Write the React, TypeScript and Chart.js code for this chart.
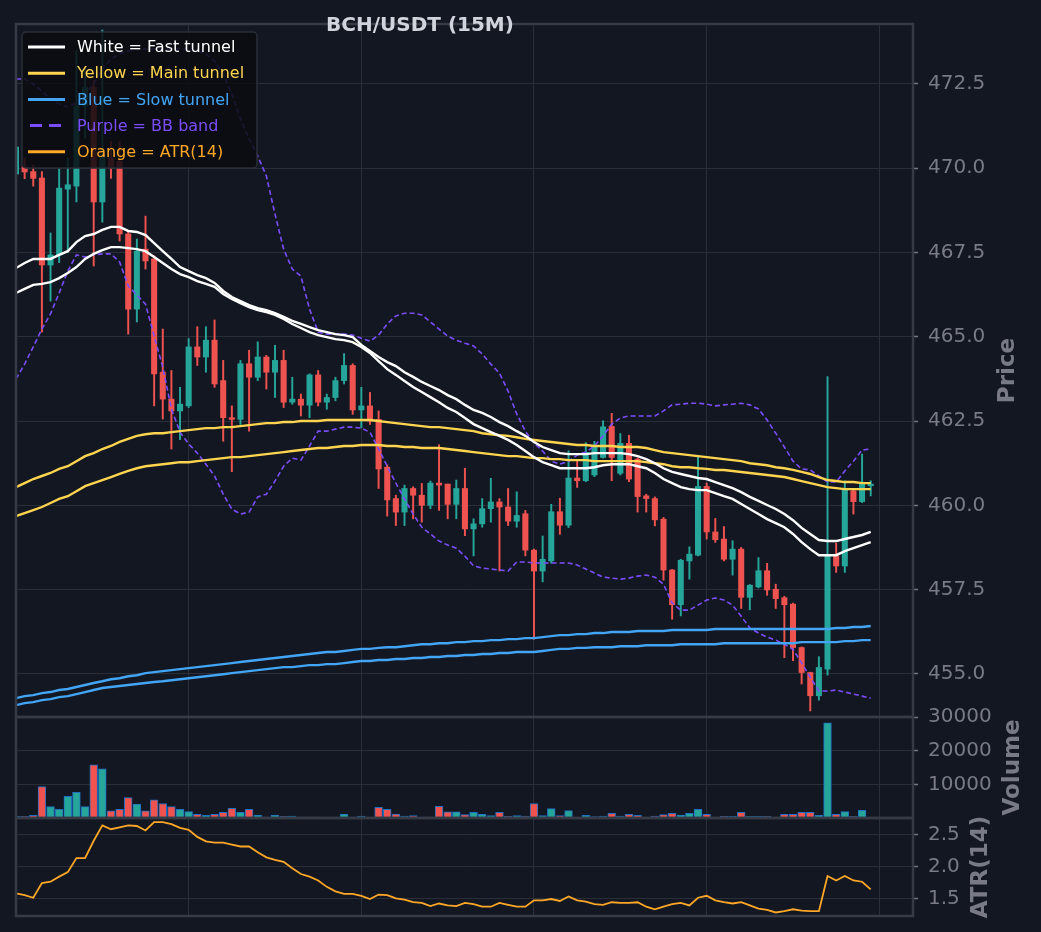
import { useEffect, useRef } from "react";
import { Chart, registerables } from "chart.js";

Chart.register(...registerables);

// ---- data (one entry per 15m candle) ----
const OPEN = [
  469.83, 470.04, 469.9, 469.71, 467.13, 467.43, 469.38, 469.47, 471.85, 472.4,
  469.0, 470.3, 470.2, 468.05, 465.82, 467.6, 467.31, 463.95, 463.15, 462.8,
  462.95, 464.7, 464.4, 464.9, 463.7, 462.6, 462.55, 464.2, 463.8, 464.4,
  463.95, 464.3, 463.06, 463.15, 462.97, 463.87, 463.06, 463.2, 463.7, 464.15,
  462.83, 462.95, 462.55, 461.13, 460.2, 459.8, 460.5, 460.3, 460.0, 460.66,
  460.63, 460.03, 460.5, 459.3, 459.45, 459.9, 460.1, 459.95, 459.53, 459.75,
  458.67, 458.05, 458.35, 459.81, 459.41, 460.81, 460.73, 460.9, 461.42, 462.34,
  460.95, 461.84, 461.37, 460.28, 460.2, 459.59, 458.08, 457.05, 458.35, 458.52,
  460.56, 459.21, 459.0, 458.4, 458.7, 457.27, 457.58, 458.06, 457.51, 457.26,
  457.07, 455.78, 455.04, 454.35, 455.14, 458.5, 458.2, 460.43, 460.11, 460.58,
];
const HIGH = [
  471.0, 470.3, 470.1, 469.9, 468.08, 469.98, 470.3, 473.5, 473.0, 472.6,
  474.1, 470.8, 470.8, 468.1, 467.9, 468.58, 467.4, 465.23, 464.0, 463.5,
  464.95, 465.3, 465.3, 465.5, 464.3, 462.95, 464.3, 464.6, 464.85, 464.45,
  464.75, 464.6, 463.8, 463.3, 463.9, 464.0, 463.3, 463.8, 464.5, 464.2,
  463.5, 463.35, 462.8, 461.2, 460.3, 460.6, 460.55, 460.65, 460.72, 461.8,
  460.63, 460.75, 461.1, 459.6, 460.2, 460.8, 460.2, 460.5, 460.4, 459.85,
  458.7, 459.09, 460.03, 460.21, 461.62, 461.32, 461.86, 461.9, 462.51, 462.73,
  462.13, 462.08, 461.4, 460.33, 460.25, 459.64, 458.1, 458.4, 458.77, 461.44,
  460.66, 459.61, 459.37, 458.95, 458.75, 457.65, 458.45, 458.28, 457.66, 457.3,
  457.1, 455.8, 455.05, 455.51, 463.82, 458.88, 460.73, 460.45, 461.52, 460.73,
];
const LOW = [
  469.7, 469.69, 469.47, 465.14, 466.06, 467.2, 467.5, 469.0, 470.9, 467.1,
  468.4, 469.7, 467.84, 465.08, 465.44, 467.01, 462.95, 462.56, 461.67, 461.95,
  462.9, 464.15, 463.95, 463.5, 461.9, 461.0, 462.4, 462.2, 463.7, 463.45,
  463.2, 462.9, 463.0, 462.65, 462.6, 462.95, 462.85, 463.1, 463.6, 462.7,
  462.3, 462.4, 460.5, 459.68, 459.4, 459.4, 459.6, 459.5, 459.9, 459.85,
  459.6, 459.6, 459.1, 458.5, 459.35, 459.5, 458.05, 459.4, 459.35, 458.5,
  456.03, 457.73, 458.28, 459.14, 459.34, 460.53, 460.7, 460.85, 461.4, 460.73,
  460.9, 460.7, 459.8, 459.8, 459.39, 457.78, 456.62, 456.72, 457.81, 458.5,
  459.0, 458.9, 458.35, 457.93, 456.94, 456.9, 457.55, 457.33, 456.94, 455.48,
  455.39, 454.7, 453.9, 454.22, 454.96, 458.01, 458.01, 459.74, 460.08, 460.28,
];
const CLOSE = [
  470.63, 469.89, 469.7, 467.13, 467.43, 469.41, 469.51, 471.85, 472.4, 469.0,
  470.4, 470.0, 468.05, 465.82, 467.54, 467.25, 463.9, 463.15, 462.8, 463.0,
  464.7, 464.4, 464.9, 463.6, 462.6, 462.55, 464.2, 463.8, 464.4, 463.95,
  464.3, 463.06, 463.15, 462.97, 463.87, 463.06, 463.2, 463.7, 464.15, 462.83,
  462.95, 462.5, 461.08, 460.16, 459.8, 460.5, 460.3, 460.0, 460.66, 460.6,
  460.03, 460.5, 459.3, 459.45, 459.9, 460.1, 459.95, 459.53, 459.7, 458.67,
  458.05, 458.4, 459.81, 459.41, 460.81, 460.73, 461.57, 461.76, 462.33, 461.42,
  461.84, 460.78, 460.26, 460.2, 459.57, 458.08, 457.05, 458.37, 458.55, 460.56,
  459.21, 458.98, 458.4, 458.7, 457.27, 457.63, 458.06, 457.49, 457.23, 457.05,
  455.78, 455.04, 454.35, 455.19, 458.5, 458.2, 460.48, 460.11, 460.63, 460.63,
];
const VOLUME = [
  500, 500, 800, 9300, 3400, 2600, 6400, 7600, 3400, 15800,
  14600, 2100, 2600, 6100, 4100, 2100, 5400, 4300, 3400, 2600,
  1900, 1100, 800, 1100, 1700, 2900, 1700, 2600, 900, 300,
  900, 500, 600, 300, 300, 300, 100, 300, 1200, 300,
  600, 200, 3200, 2600, 1200, 600, 700, 300, 300, 3500,
  1800, 1800, 1000, 1700, 1100, 700, 1700, 500, 700, 600,
  4300, 700, 2800, 700, 2200, 100, 800, 400, 600, 1400,
  600, 1100, 800, 100, 600, 1000, 1400, 900, 1400, 2600,
  1100, 200, 500, 500, 1700, 500, 500, 500, 200, 1100,
  1100, 1700, 1700, 800, 28300, 1100, 1900, 500, 2300, 200,
];
const ATR = [
  1.58, 1.55, 1.51, 1.74, 1.76, 1.84, 1.91, 2.13, 2.13, 2.4,
  2.64, 2.58, 2.61, 2.64, 2.63, 2.56, 2.69, 2.69, 2.66, 2.6,
  2.57, 2.46, 2.39, 2.37, 2.37, 2.34, 2.31, 2.31, 2.22, 2.14,
  2.1, 2.07, 1.97, 1.88, 1.84, 1.78, 1.68, 1.61, 1.57, 1.57,
  1.54, 1.49, 1.56, 1.55, 1.5, 1.48, 1.44, 1.43, 1.38, 1.42,
  1.39, 1.38, 1.43, 1.41, 1.37, 1.37, 1.43, 1.4, 1.37, 1.37,
  1.47, 1.47, 1.49, 1.46, 1.53, 1.47, 1.45, 1.41, 1.4, 1.44,
  1.43, 1.43, 1.44, 1.37, 1.33, 1.37, 1.41, 1.43, 1.39, 1.51,
  1.54, 1.47, 1.44, 1.42, 1.44, 1.39, 1.34, 1.32, 1.28, 1.3,
  1.33, 1.31, 1.3, 1.3, 1.85, 1.78, 1.85, 1.78, 1.76, 1.64,
];
const FAST_UPPER = [
  467.04, 467.19, 467.31, 467.31, 467.31, 467.43, 467.54, 467.81, 467.99, 468.05,
  468.17, 468.26, 468.26, 468.14, 468.11, 468.02, 467.78, 467.54, 467.31, 467.07,
  466.95, 466.83, 466.74, 466.6, 466.36, 466.18, 466.06, 465.94, 465.85, 465.79,
  465.7, 465.59, 465.47, 465.38, 465.29, 465.2, 465.14, 465.08, 465.05, 464.99,
  464.76, 464.58, 464.4, 464.25, 464.13, 463.95, 463.81, 463.66, 463.54, 463.42,
  463.27, 463.15, 462.98, 462.83, 462.74, 462.62, 462.47, 462.35, 462.2, 462.06,
  461.88, 461.73, 461.64, 461.55, 461.52, 461.52, 461.52, 461.55, 461.55, 461.55,
  461.55, 461.52, 461.46, 461.37, 461.25, 461.1, 460.99, 460.93, 460.87, 460.81,
  460.78, 460.69, 460.6, 460.51, 460.39, 460.25, 460.13, 460.01, 459.89, 459.74,
  459.56, 459.33, 459.15, 458.97, 458.94, 458.94, 459.0, 459.06, 459.12, 459.21,
];
const FAST_LOWER = [
  466.3, 466.42, 466.54, 466.57, 466.62, 466.74, 466.89, 467.07, 467.31, 467.46,
  467.57, 467.66, 467.66, 467.63, 467.6, 467.54, 467.37, 467.19, 467.01, 466.86,
  466.77, 466.65, 466.57, 466.48, 466.27, 466.12, 466.0, 465.88, 465.79, 465.73,
  465.65, 465.53, 465.38, 465.26, 465.14, 465.05, 464.99, 464.93, 464.9, 464.84,
  464.7, 464.52, 464.28, 464.04, 463.87, 463.69, 463.51, 463.36, 463.21, 463.06,
  462.89, 462.77, 462.59, 462.41, 462.29, 462.17, 462.06, 461.94, 461.79, 461.61,
  461.43, 461.28, 461.19, 461.1, 461.1, 461.1, 461.1, 461.13, 461.19, 461.22,
  461.22, 461.22, 461.16, 461.1, 460.96, 460.78, 460.66, 460.54, 460.48, 460.45,
  460.45, 460.36, 460.27, 460.19, 460.04, 459.89, 459.74, 459.59, 459.47, 459.35,
  459.15, 458.91, 458.7, 458.52, 458.52, 458.52, 458.64, 458.73, 458.82, 458.91,
];
const MAIN_UPPER = [
  460.54, 460.66, 460.78, 460.87, 460.96, 461.08, 461.16, 461.31, 461.46, 461.55,
  461.67, 461.76, 461.88, 461.97, 462.06, 462.11, 462.14, 462.14, 462.17, 462.2,
  462.23, 462.26, 462.29, 462.29, 462.32, 462.32, 462.35, 462.38, 462.41, 462.44,
  462.44, 462.47, 462.47, 462.5, 462.5, 462.5, 462.53, 462.53, 462.53, 462.53,
  462.53, 462.53, 462.5, 462.47, 462.44, 462.41, 462.38, 462.35, 462.32, 462.32,
  462.29, 462.26, 462.23, 462.2, 462.14, 462.11, 462.08, 462.06, 462.02, 461.97,
  461.94, 461.91, 461.88, 461.85, 461.82, 461.79, 461.79, 461.76, 461.76, 461.76,
  461.73, 461.73, 461.73, 461.7, 461.64, 461.58, 461.55, 461.52, 461.49, 461.46,
  461.43, 461.4, 461.37, 461.34, 461.31, 461.25, 461.22, 461.19, 461.13, 461.1,
  461.05, 460.99, 460.93, 460.84, 460.75, 460.72, 460.69, 460.69, 460.66, 460.66,
];
const MAIN_LOWER = [
  459.68, 459.77, 459.86, 459.95, 460.07, 460.19, 460.27, 460.42, 460.57, 460.66,
  460.75, 460.84, 460.93, 461.02, 461.1, 461.16, 461.19, 461.22, 461.25, 461.28,
  461.28, 461.31, 461.34, 461.37, 461.4, 461.43, 461.43, 461.46, 461.49, 461.52,
  461.55, 461.58, 461.61, 461.64, 461.67, 461.7, 461.7, 461.73, 461.76, 461.76,
  461.79, 461.79, 461.79, 461.76, 461.76, 461.73, 461.73, 461.7, 461.7, 461.7,
  461.67, 461.64, 461.61, 461.58, 461.55, 461.52, 461.49, 461.46, 461.46, 461.43,
  461.4, 461.4, 461.37, 461.37, 461.34, 461.34, 461.34, 461.31, 461.31, 461.31,
  461.31, 461.31, 461.31, 461.28, 461.25, 461.22, 461.16, 461.13, 461.13, 461.1,
  461.08, 461.05, 461.05, 461.02, 460.99, 460.96, 460.93, 460.9, 460.87, 460.84,
  460.78, 460.72, 460.66, 460.6, 460.54, 460.51, 460.48, 460.48, 460.48, 460.48,
];
const SLOW_UPPER = [
  454.28, 454.34, 454.37, 454.43, 454.46, 454.52, 454.55, 454.61, 454.67, 454.73,
  454.78, 454.84, 454.87, 454.93, 454.96, 455.02, 455.05, 455.08, 455.11, 455.14,
  455.17, 455.2, 455.23, 455.26, 455.29, 455.32, 455.35, 455.38, 455.41, 455.44,
  455.47, 455.5, 455.53, 455.56, 455.59, 455.62, 455.65, 455.65, 455.68, 455.71,
  455.74, 455.74, 455.77, 455.79, 455.79, 455.82, 455.85, 455.88, 455.88, 455.91,
  455.91, 455.94, 455.94, 455.97, 455.97, 456.0, 456.0, 456.03, 456.03, 456.06,
  456.06, 456.09, 456.12, 456.15, 456.15, 456.18, 456.18, 456.21, 456.21, 456.24,
  456.24, 456.24, 456.27, 456.27, 456.27, 456.27, 456.3, 456.3, 456.3, 456.3,
  456.3, 456.33, 456.33, 456.33, 456.33, 456.33, 456.33, 456.33, 456.33, 456.33,
  456.33, 456.33, 456.33, 456.33, 456.33, 456.36, 456.36, 456.39, 456.39, 456.42,
];
const SLOW_LOWER = [
  454.07, 454.13, 454.16, 454.22, 454.25, 454.31, 454.34, 454.4, 454.46, 454.52,
  454.58, 454.61, 454.64, 454.67, 454.7, 454.73, 454.76, 454.78, 454.81, 454.84,
  454.87, 454.9, 454.93, 454.96, 454.99, 455.02, 455.05, 455.08, 455.11, 455.14,
  455.17, 455.2, 455.2, 455.23, 455.26, 455.26, 455.29, 455.29, 455.32, 455.35,
  455.38, 455.38, 455.41, 455.41, 455.44, 455.44, 455.47, 455.47, 455.5, 455.5,
  455.53, 455.53, 455.56, 455.56, 455.59, 455.59, 455.62, 455.62, 455.65, 455.65,
  455.65, 455.68, 455.71, 455.74, 455.74, 455.77, 455.77, 455.79, 455.79, 455.79,
  455.82, 455.82, 455.82, 455.85, 455.85, 455.85, 455.85, 455.88, 455.88, 455.88,
  455.88, 455.88, 455.91, 455.91, 455.91, 455.91, 455.91, 455.91, 455.91, 455.91,
  455.91, 455.94, 455.94, 455.94, 455.94, 455.94, 455.97, 455.97, 456.0, 456.0,
];
const BB_UPPER = [
  472.65, 472.65, 472.5, 472.29, 472.06, 471.91, 471.82, 471.94, 472.2, 472.5,
  472.95, 473.24, 473.39, 473.48, 473.54, 473.54, 473.54, 473.54, 473.54, 473.54,
  473.54, 473.48, 473.39, 473.18, 472.8, 472.2, 471.46, 470.87, 470.36, 469.77,
  468.64, 467.6, 467.01, 466.8, 465.82, 465.14, 465.08, 465.08, 465.08, 465.05,
  464.96, 464.87, 465.05, 465.38, 465.62, 465.7, 465.7, 465.65, 465.44, 465.23,
  465.02, 464.9, 464.81, 464.73, 464.49, 464.19, 463.92, 463.39, 462.71, 462.2,
  461.85, 461.61, 461.31, 461.22, 461.31, 461.49, 461.58, 461.76, 462.06, 462.41,
  462.59, 462.65, 462.65, 462.65, 462.65, 462.8, 462.98, 463.0, 463.03, 463.03,
  463.0, 462.95, 462.98, 463.0, 463.03, 462.98, 462.86, 462.53, 462.14, 461.73,
  461.31, 461.08, 461.05, 460.87, 460.69, 460.69, 461.02, 461.31, 461.64, 461.67,
];
const BB_LOWER = [
  463.75, 464.19, 464.7, 465.23, 465.68, 466.3, 466.95, 467.43, 467.37, 467.43,
  467.46, 467.46, 467.22, 466.51, 466.24, 465.97, 465.02, 464.1, 462.86, 462.17,
  461.82, 461.55, 461.22, 460.87, 460.33, 459.89, 459.74, 459.8, 460.25, 460.33,
  460.72, 461.16, 461.4, 461.34, 461.76, 462.2, 462.2, 462.26, 462.32, 462.32,
  462.29, 462.17, 461.67, 461.16, 460.66, 460.19, 459.74, 459.35, 459.15, 458.94,
  458.82, 458.73, 458.49, 458.2, 458.14, 458.11, 458.08, 458.05, 458.32, 458.32,
  458.29, 458.29, 458.29, 458.29, 458.29, 458.23, 458.11, 457.99, 457.87, 457.84,
  457.81, 457.84, 457.9, 457.93, 457.87, 457.66, 457.1, 456.89, 456.89, 457.04,
  457.19, 457.25, 457.19, 457.04, 456.71, 456.36, 456.21, 456.09, 456.0, 455.88,
  455.73, 455.32, 454.9, 454.49, 454.49, 454.52, 454.46, 454.4, 454.34, 454.28,
];
const PRICE_TICKS = [455, 457.5, 460, 462.5, 465, 467.5, 470, 472.5];
const VOLUME_TICKS = [10000, 20000, 30000];
const ATR_TICKS = [1.5, 2, 2.5];
const X_GRID = [20, 40, 60, 80, 100];

// ---- styling ----
const BG = "#131722";
const GRID = "#2a2e39";
const SPINE = "#363a45";
const TEXT_DIM = "#787b86";
const UP = "#26a69a";
const DOWN = "#ef5350";
const FONT = '"DejaVu Sans", sans-serif';

const LEGEND_ROWS = [
  { label: "White = Fast tunnel", color: "#ffffff", dash: false },
  { label: "Yellow = Main tunnel", color: "#ffd54f", dash: false },
  { label: "Blue = Slow tunnel", color: "#42a5f5", dash: false },
  { label: "Purple = BB band", color: "#7c4dff", dash: true },
  { label: "Orange = ATR(14)", color: "#ffa726", dash: false },
];

const dirColors = CLOSE.map((c, i) => (c >= OPEN[i] ? UP : DOWN));
const xy = (arr: number[]) => arr.map((v, i) => ({ x: i, y: v }));

function lineSet(label: string, data: number[], color: string, width: number, axis = "y", dash: number[] = []) {
  return {
    type: "line" as const,
    label,
    data: xy(data),
    yAxisID: axis,
    borderColor: color,
    borderWidth: width,
    borderDash: dash,
    pointRadius: 0,
    fill: false,
    tension: 0,
    order: 1,
  };
}

function fixedTicks(values: number[]) {
  return (axis: any) => {
    axis.ticks = values.map((v) => ({ value: v }));
  };
}

function yAxis(weight: number, min: number, max: number, ticks: number[], fmt: (v: number) => string) {
  return {
    type: "linear" as const,
    position: "right" as const,
    stack: "panels",
    stackWeight: weight,
    min,
    max,
    afterBuildTicks: fixedTicks(ticks),
    // fixed axis width so the plot ends at the same x as the reference;
    // label overhang padding is zeroed so it does not shrink the plot area
    afterFit: (axis: any) => {
      axis.width = 128;
      axis.paddingTop = 0;
      axis.paddingBottom = 0;
    },
    border: { display: false },
    grid: { color: GRID, lineWidth: 1, drawTicks: true, tickLength: 5, tickColor: TEXT_DIM, tickWidth: 1.5 },
    ticks: {
      color: TEXT_DIM,
      padding: 10,
      autoSkip: false,
      font: { family: FONT, size: 20 },
      callback: (v: any) => fmt(Number(v)),
    },
  };
}

const decor = {
  id: "decor",
  beforeDraw(chart: any) {
    const { ctx, width, height } = chart;
    ctx.save();
    ctx.fillStyle = BG;
    ctx.fillRect(0, 0, width, height);
    ctx.restore();
  },
  afterDraw(chart: any) {
    const { ctx, chartArea } = chart;
    ctx.save();
    // panel frames
    for (const id of ["y", "vol", "atr"]) {
      const s = chart.scales[id];
      ctx.strokeStyle = SPINE;
      ctx.lineWidth = 2.5;
      ctx.strokeRect(chartArea.left, s.top, chartArea.right - chartArea.left, s.bottom - s.top);
    }
    // title
    ctx.fillStyle = "#d1d4dc";
    ctx.font = `bold 20px ${FONT}`;
    ctx.textAlign = "center";
    ctx.textBaseline = "alphabetic";
    ctx.fillText("BCH/USDT (15M)", 420, 31);
    // rotated axis titles
    const axisTitle = (text: string, x: number, id: string) => {
      const s = chart.scales[id];
      ctx.save();
      ctx.translate(x, (s.top + s.bottom) / 2);
      ctx.rotate(-Math.PI / 2);
      ctx.fillStyle = TEXT_DIM;
      ctx.font = `bold 23px ${FONT}`;
      ctx.textAlign = "center";
      ctx.textBaseline = "middle";
      ctx.fillText(text, 0, 0);
      ctx.restore();
    };
    axisTitle("Price", 1008, "y");
    axisTitle("Volume", 1013, "vol");
    axisTitle("ATR(14)", 981, "atr");
    // legend box
    ctx.fillStyle = "rgba(10, 12, 17, 0.85)";
    ctx.strokeStyle = GRID;
    ctx.lineWidth = 1.5;
    ctx.beginPath();
    ctx.roundRect(22, 32, 235, 136, 4);
    ctx.fill();
    ctx.stroke();
    ctx.font = `16px ${FONT}`;
    ctx.textAlign = "left";
    ctx.textBaseline = "middle";
    LEGEND_ROWS.forEach((row, k) => {
      const y = 47 + k * 26.2;
      ctx.strokeStyle = row.color;
      ctx.lineWidth = 3;
      ctx.setLineDash(row.dash ? [12, 7] : []);
      ctx.beginPath();
      ctx.moveTo(row.dash ? 30 : 28, y);
      ctx.lineTo(65, y);
      ctx.stroke();
      ctx.setLineDash([]);
      ctx.fillStyle = row.color;
      ctx.fillText(row.label, 77, y + 1);
    });
    ctx.restore();
  },
};

export default function App() {
  const canvasRef = useRef<HTMLCanvasElement>(null);
  useEffect(() => {
    const canvas = canvasRef.current;
    if (!canvas) return;
    const chart = new Chart(canvas, {
      type: "line",
      data: {
        datasets: [
          lineSet("Fast upper", FAST_UPPER, "#ffffff", 2.4),
          lineSet("Fast lower", FAST_LOWER, "#ffffff", 2.4),
          lineSet("Main upper", MAIN_UPPER, "#ffd54f", 2.4),
          lineSet("Main lower", MAIN_LOWER, "#ffd54f", 2.4),
          lineSet("Slow upper", SLOW_UPPER, "#42a5f5", 2.4),
          lineSet("Slow lower", SLOW_LOWER, "#42a5f5", 2.4),
          lineSet("BB upper", BB_UPPER, "#7c4dff", 1.6, "y", [5, 3]),
          lineSet("BB lower", BB_LOWER, "#7c4dff", 1.6, "y", [5, 3]),
          lineSet("ATR(14)", ATR, "#ffa726", 1.8, "atr"),
          {
            type: "bar",
            label: "Body",
            data: OPEN.map((o, i) => ({ x: i, y: [o, CLOSE[i]] })) as any,
            yAxisID: "y",
            backgroundColor: dirColors,
            borderWidth: 0,
            barThickness: 5.4,
            minBarLength: 1.2,
            grouped: false,
            order: 5,
          },
          {
            type: "bar",
            label: "Wick",
            data: LOW.map((l, i) => ({ x: i, y: [l, HIGH[i]] })) as any,
            yAxisID: "y",
            backgroundColor: dirColors,
            borderWidth: 0,
            barThickness: 1.3,
            grouped: false,
            order: 6,
          },
          {
            type: "bar",
            label: "Volume",
            data: xy(VOLUME) as any,
            yAxisID: "vol",
            backgroundColor: dirColors,
            borderColor: "#1f6fc2",
            borderWidth: 1,
            borderSkipped: false,
            barThickness: 7.8,
            grouped: false,
            order: 5,
          },
        ],
      },
      options: {
        responsive: false,
        animation: false,
        events: [],
        layout: { padding: { left: 16, top: 24, right: 0, bottom: 16 } },
        plugins: { legend: { display: false }, tooltip: { enabled: false }, title: { display: false } },
        scales: {
          x: {
            type: "linear",
            min: 0,
            max: 103.9,
            offset: false,
            afterBuildTicks: fixedTicks(X_GRID),
            border: { display: false },
            grid: { color: GRID, lineWidth: 1, drawTicks: false, offset: false },
            ticks: { display: false },
          },
          y: yAxis(693, 453.72, 474.28, PRICE_TICKS, (v) => v.toFixed(1)),
          vol: yAxis(101, 0, 30000, VOLUME_TICKS, (v) => String(Math.round(v))),
          atr: yAxis(98, 1.225, 2.755, ATR_TICKS, (v) => v.toFixed(1)),
        },
      } as any,
      plugins: [decor],
    });
    return () => chart.destroy();
  }, []);
  return (
    <div style={{ position: "fixed", left: 0, top: 0, width: 1041, height: 932, background: BG }}>
      <canvas ref={canvasRef} width={1041} height={932} style={{ width: 1041, height: 932 }} />
    </div>
  );
}
